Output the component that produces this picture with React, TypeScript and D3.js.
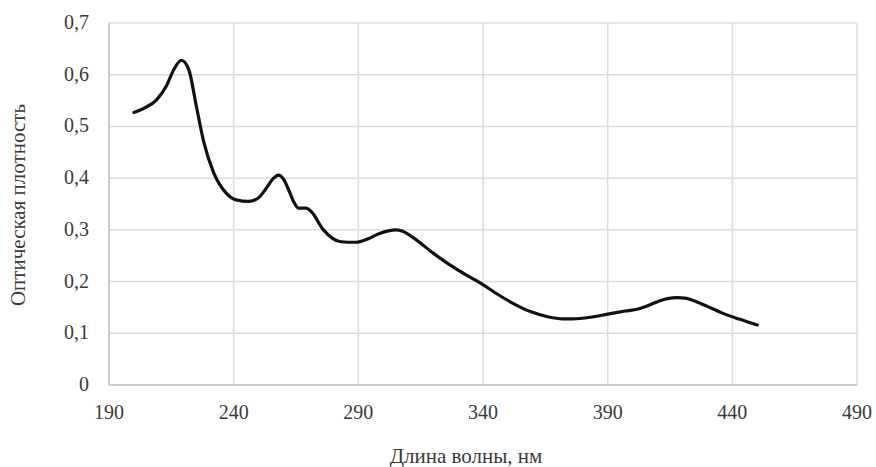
import React, { useEffect } from 'react';
import * as d3 from 'd3';

// Wavelength (nm) and optical density
const wavelengths = [200, 204, 209, 213, 216, 219, 222, 225, 228, 232, 237, 241, 246, 250, 253, 256, 258, 260, 262, 264, 266, 269, 271, 276, 283, 289, 294, 298, 302, 305, 308, 312, 320, 330, 339, 346, 352, 359, 366, 372, 376, 383, 390, 397, 403, 407, 411, 414, 418, 421, 424, 430, 436, 443, 450];
const density = [0.527, 0.535, 0.551, 0.578, 0.61, 0.628, 0.61, 0.54, 0.47, 0.41, 0.371, 0.358, 0.355, 0.362, 0.38, 0.4, 0.406, 0.398, 0.378, 0.355, 0.342, 0.342, 0.336, 0.3, 0.277, 0.276, 0.283, 0.292, 0.298, 0.3, 0.297, 0.285, 0.255, 0.222, 0.197, 0.175, 0.158, 0.142, 0.132, 0.128, 0.128, 0.131, 0.137, 0.143, 0.148, 0.155, 0.163, 0.167, 0.169, 0.168, 0.164, 0.152, 0.139, 0.127, 0.116];

const xTicks = [190, 240, 290, 340, 390, 440, 490];
const yTicks = [0, 0.1, 0.2, 0.3, 0.4, 0.5, 0.6, 0.7];
const xTitle = 'Длина волны, нм';
const yTitle = 'Оптическая плотность';

const width = 876;
const height = 467;
const margin = { top: 23, right: 19, bottom: 82, left: 109 };
const font = '"Liberation Serif", "Times New Roman", serif';

export default function App() {
    useEffect(() => {
        document.body.style.margin = '0';
    }, []);

    const x = d3.scaleLinear().domain([190, 490]).range([margin.left, width - margin.right]);
    const y = d3.scaleLinear().domain([0, 0.7]).range([height - margin.bottom, margin.top]);

    const points = wavelengths.map((w, i) => [w, density[i]] as [number, number]);
    const line = d3.line<[number, number]>()
        .x(d => x(d[0]))
        .y(d => y(d[1]))
        .curve(d3.curveMonotoneX);

    const fmt = (v: number) => (v === 0 ? '0' : d3.format('.1f')(v).replace('.', ','));

    return (
        <svg width={width} height={height} style={{ display: 'block', background: '#fff' }}>
            {/* gridlines */}
            {yTicks.map(t => (
                <line key={'gy' + t} x1={x(190)} x2={x(490)} y1={y(t)} y2={y(t)} stroke="#dcdcdc" strokeWidth={1.5} />
            ))}
            {xTicks.map(t => (
                <line key={'gx' + t} x1={x(t)} x2={x(t)} y1={y(0)} y2={y(0.7)} stroke="#dcdcdc" strokeWidth={1.5} />
            ))}
            {/* axis lines */}
            <line x1={x(190)} x2={x(490)} y1={y(0)} y2={y(0)} stroke="#c4c4c4" strokeWidth={1.5} />
            <line x1={x(190)} x2={x(190)} y1={y(0)} y2={y(0.7)} stroke="#c4c4c4" strokeWidth={1.5} />

            {/* tick labels */}
            {yTicks.map(t => (
                <text key={'ly' + t} x={89} y={y(t) + 6} textAnchor="end" fontFamily={font} fontSize={20} fill="#3a3a3a">
                    {fmt(t)}
                </text>
            ))}
            {xTicks.map(t => (
                <text key={'lx' + t} x={x(t)} y={419} textAnchor="middle" fontFamily={font} fontSize={20} fill="#3a3a3a">
                    {t}
                </text>
            ))}

            {/* spectrum */}
            <path d={line(points) || ''} fill="none" stroke="#111" strokeWidth={3.2} strokeLinejoin="round" strokeLinecap="round" />

            {/* axis titles */}
            <text x={466} y={463} textAnchor="middle" fontFamily={font} fontSize={21} fill="#3a3a3a">
                {xTitle}
            </text>
            <text transform={`translate(25, ${205}) rotate(-90)`} textAnchor="middle" fontFamily={font} fontSize={21} fill="#3a3a3a">
                {yTitle}
            </text>
        </svg>
    );
}
